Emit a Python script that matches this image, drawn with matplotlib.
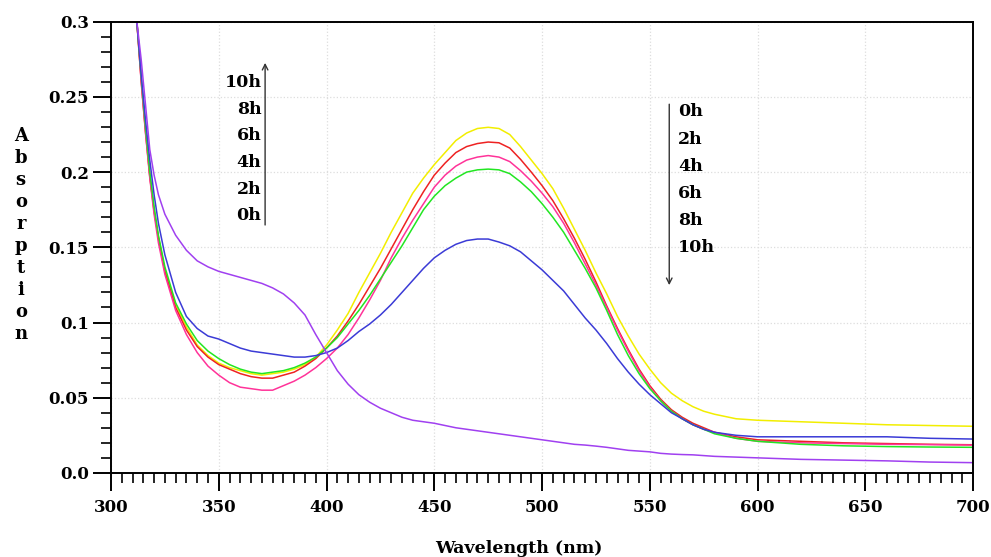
import matplotlib
matplotlib.use("Agg")
import matplotlib.pyplot as plt
import numpy as np

# wavelength grid (nm)
wl = [312, 314, 316, 318, 320, 322, 325, 330, 335, 340, 345, 350, 355, 360, 365, 370,
      375, 380, 385, 390, 395, 400, 405, 410, 415, 420, 425, 430, 435, 440, 445, 450,
      455, 460, 465, 470, 475, 480, 485, 490, 495, 500, 505, 510, 515, 520, 525, 530,
      535, 540, 545, 550, 555, 560, 565, 570, 575, 580, 590, 600, 620, 640, 660, 680, 700]

# absorption
abs_0h = [0.300, 0.262, 0.228, 0.198, 0.175, 0.157, 0.135, 0.112, 0.097, 0.085, 0.078, 0.073, 0.070, 0.068, 0.066, 0.065,
          0.066, 0.067, 0.069, 0.072, 0.077, 0.085, 0.095, 0.106, 0.120, 0.133, 0.146, 0.160, 0.173, 0.186, 0.196, 0.205,
          0.213, 0.221, 0.226, 0.229, 0.2298, 0.229, 0.225, 0.217, 0.208, 0.199, 0.189, 0.176, 0.162, 0.148, 0.133, 0.119,
          0.104, 0.091, 0.079, 0.069, 0.060, 0.053, 0.048, 0.044, 0.041, 0.039, 0.036, 0.035, 0.034, 0.033, 0.032, 0.0315, 0.031]
abs_2h = [0.300, 0.261, 0.227, 0.197, 0.174, 0.156, 0.134, 0.110, 0.095, 0.084, 0.077, 0.072, 0.069, 0.066, 0.064, 0.063,
          0.063, 0.065, 0.067, 0.071, 0.076, 0.083, 0.091, 0.101, 0.112, 0.124, 0.136, 0.149, 0.162, 0.175, 0.187, 0.198,
          0.206, 0.213, 0.217, 0.219, 0.220, 0.2195, 0.216, 0.2085, 0.200, 0.191, 0.181, 0.169, 0.156, 0.142, 0.127, 0.111,
          0.096, 0.082, 0.069, 0.058, 0.049, 0.042, 0.037, 0.033, 0.030, 0.027, 0.024, 0.022, 0.021, 0.020, 0.0195, 0.019, 0.0187]
abs_4h = [0.300, 0.260, 0.226, 0.196, 0.172, 0.153, 0.132, 0.108, 0.092, 0.080, 0.071, 0.065, 0.060, 0.057, 0.056, 0.055,
          0.055, 0.058, 0.061, 0.065, 0.070, 0.076, 0.083, 0.092, 0.103, 0.115, 0.128, 0.143, 0.156, 0.168, 0.179, 0.190,
          0.198, 0.204, 0.208, 0.210, 0.211, 0.210, 0.207, 0.201, 0.194, 0.186, 0.177, 0.166, 0.153, 0.139, 0.125, 0.110,
          0.095, 0.081, 0.068, 0.057, 0.048, 0.041, 0.036, 0.032, 0.029, 0.027, 0.023, 0.021, 0.020, 0.0195, 0.019, 0.0188, 0.0185]
abs_6h = [0.300, 0.264, 0.230, 0.200, 0.177, 0.158, 0.137, 0.113, 0.099, 0.088, 0.081, 0.076, 0.072, 0.069, 0.067, 0.066,
          0.067, 0.068, 0.070, 0.073, 0.077, 0.083, 0.090, 0.099, 0.108, 0.118, 0.129, 0.140, 0.151, 0.163, 0.175, 0.184,
          0.191, 0.196, 0.200, 0.2015, 0.202, 0.2015, 0.199, 0.1935, 0.187, 0.179, 0.170, 0.160, 0.148, 0.136, 0.123, 0.108,
          0.092, 0.078, 0.066, 0.056, 0.048, 0.041, 0.036, 0.032, 0.029, 0.026, 0.023, 0.021, 0.019, 0.018, 0.0175, 0.0172, 0.017]
abs_8h = [0.300, 0.265, 0.235, 0.208, 0.185, 0.166, 0.145, 0.120, 0.104, 0.096, 0.091, 0.089, 0.086, 0.083, 0.081, 0.080,
          0.079, 0.078, 0.077, 0.077, 0.078, 0.080, 0.083, 0.088, 0.094, 0.099, 0.105, 0.112, 0.120, 0.128, 0.136, 0.143,
          0.148, 0.152, 0.1545, 0.1555, 0.1555, 0.1535, 0.151, 0.147, 0.141, 0.135, 0.128, 0.121, 0.112, 0.103, 0.095, 0.086,
          0.076, 0.067, 0.059, 0.052, 0.046, 0.040, 0.036, 0.032, 0.029, 0.027, 0.025, 0.024, 0.024, 0.024, 0.024, 0.023, 0.0225]
abs_10h = [0.300, 0.275, 0.245, 0.215, 0.198, 0.185, 0.172, 0.158, 0.148, 0.141, 0.137, 0.134, 0.132, 0.130, 0.128, 0.126,
           0.123, 0.119, 0.113, 0.105, 0.092, 0.080, 0.068, 0.059, 0.052, 0.047, 0.043, 0.040, 0.037, 0.035, 0.034, 0.033,
           0.0315, 0.030, 0.029, 0.028, 0.027, 0.026, 0.025, 0.024, 0.023, 0.022, 0.021, 0.020, 0.019, 0.0185, 0.0178, 0.017,
           0.016, 0.015, 0.0145, 0.014, 0.013, 0.0125, 0.0122, 0.012, 0.0115, 0.011, 0.0105, 0.010, 0.009, 0.0085, 0.008, 0.0072, 0.0068]

series = [abs_0h, abs_2h, abs_4h, abs_6h, abs_8h, abs_10h]
colors = ["#f2ee00", "#ee2222", "#ff3399", "#22e622", "#3b3bd6", "#a040f0"]

x_ticks = [300, 350, 400, 450, 500, 550, 600, 650, 700]
y_ticks = [0.0, 0.05, 0.1, 0.15, 0.2, 0.25, 0.3]
y_tick_labels = ["0.0", "0.05", "0.1", "0.15", "0.2", "0.25", "0.3"]

up_labels = ["10h", "8h", "6h", "4h", "2h", "0h"]
down_labels = ["0h", "2h", "4h", "6h", "8h", "10h"]

serif = ["DejaVu Serif"]

fig = plt.figure(figsize=(9.91, 5.57), dpi=100)
ax = fig.add_axes([0.112, 0.151, 0.870, 0.810])

for vals, c in zip(series, colors):
    ax.plot(wl, vals, color=c, lw=1.1)

ax.set_xlim(300, 700)
ax.set_ylim(0, 0.3)
ax.set_xticks(x_ticks)
ax.set_xticks(np.arange(300, 701, 5), minor=True)
ax.set_yticks(y_ticks)
ax.set_yticklabels(y_tick_labels)
ax.set_yticks(np.arange(0, 0.301, 0.01), minor=True)
ax.tick_params(which="major", length=13, width=1.4, direction="out", labelsize=12, pad=3)
ax.tick_params(which="minor", length=7, width=1.2, direction="out")
ax.tick_params(axis="x", pad=6)
for lab in ax.get_xticklabels() + ax.get_yticklabels():
    lab.set_family(serif)
    lab.set_weight("bold")
for s in ax.spines.values():
    s.set_linewidth(1.4)

ax.grid(True, which="major", color="#dddddd", linestyle=":", lw=0.9)

# stacked y label
fig.text(0.021, 0.578, "\n".join("Absorption"), ha="center", va="center",
         family=serif, weight="bold", fontsize=13, linespacing=1.29)
fig.text(0.524, 0.016, "Wavelength (nm)", ha="center", va="center",
         family=serif, weight="bold", fontsize=12.5)

# arrows with time labels
ax.annotate("", xy=(371.5, 0.2745), xytext=(371.5, 0.163),
            arrowprops=dict(arrowstyle="->", color="#333333", lw=1.0))
for i, lab in enumerate(up_labels):
    ax.text(369.8, 0.2595 - i * 0.0177, lab, ha="right", va="center",
            family=serif, weight="bold", fontsize=12.5)

ax.annotate("", xy=(559, 0.123), xytext=(559, 0.247),
            arrowprops=dict(arrowstyle="->", color="#333333", lw=1.0))
for i, lab in enumerate(down_labels):
    ax.text(563, 0.240 - i * 0.018, lab, ha="left", va="center",
            family=serif, weight="bold", fontsize=12.5)

fig.savefig("out.png", dpi=100)
